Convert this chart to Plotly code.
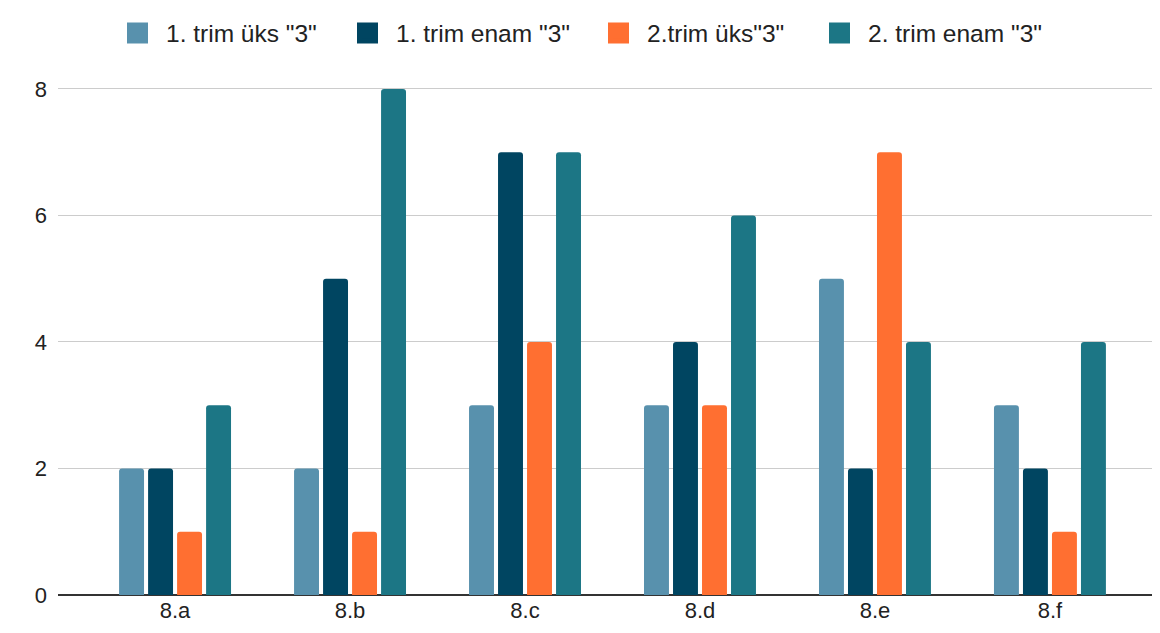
import plotly.graph_objects as go

categories = ["8.a", "8.b", "8.c", "8.d", "8.e", "8.f"]
series_names = ['1. trim üks "3"', '1. trim enam "3"', '2.trim üks"3"', '2. trim enam "3"']
s1 = [2, 2, 3, 3, 5, 3]
s2 = [2, 5, 7, 4, 2, 2]
s3 = [1, 1, 4, 3, 7, 1]
s4 = [3, 8, 7, 6, 4, 4]
colors = ["#5891AD", "#004561", "#FF6F31", "#1C7685"]
y_ticks = [0, 2, 4, 6, 8]
legend_ids = ["legend", "legend2", "legend3", "legend4"]
legend_left_px = [101, 331, 582, 803]

fig = go.Figure()
for name, vals, c in zip(series_names, [s1, s2, s3, s4], colors):
    fig.add_trace(go.Bar(x=categories, y=vals, name=name, marker_color=c,
                         marker_line_width=0, showlegend=False))
for name, c, lid in zip(series_names, colors, legend_ids):
    fig.add_trace(go.Scatter(x=[None], y=[None], mode="markers", name=name, legend=lid,
                             marker=dict(symbol="square", size=23, color=c,
                                         line=dict(color=c, width=5))))

legend_style = dict(orientation="h", xref="container", yref="container",
                    xanchor="left", yanchor="middle", y=1 - 25 / 633,
                    font=dict(size=24.5, color="#222222"), itemwidth=47,
                    bgcolor="rgba(0,0,0,0)")
layout_legends = {lid: dict(legend_style, x=px / 1160) for lid, px in zip(legend_ids, legend_left_px)}

fig.update_layout(
    width=1160, height=633,
    margin=dict(l=50, r=8, t=72, b=46),
    paper_bgcolor="white", plot_bgcolor="white",
    barmode="group", bargap=0.337, bargroupgap=0.14, barcornerradius=3,
    font=dict(family="Liberation Sans, Arial, sans-serif", size=22, color="#222222"),
    xaxis=dict(range=[-0.669, 5.629], showgrid=False, showline=False, ticks="",
               tickfont=dict(size=22)),
    yaxis=dict(range=[0, 8.142], tickvals=y_ticks, showgrid=True, gridcolor="#CCCCCC",
               gridwidth=1, zeroline=True, zerolinecolor="#333333", zerolinewidth=2,
               showline=False, ticks="", ticklabelstandoff=10, tickfont=dict(size=22)),
    **layout_legends,
)
fig.write_html("out.html")
